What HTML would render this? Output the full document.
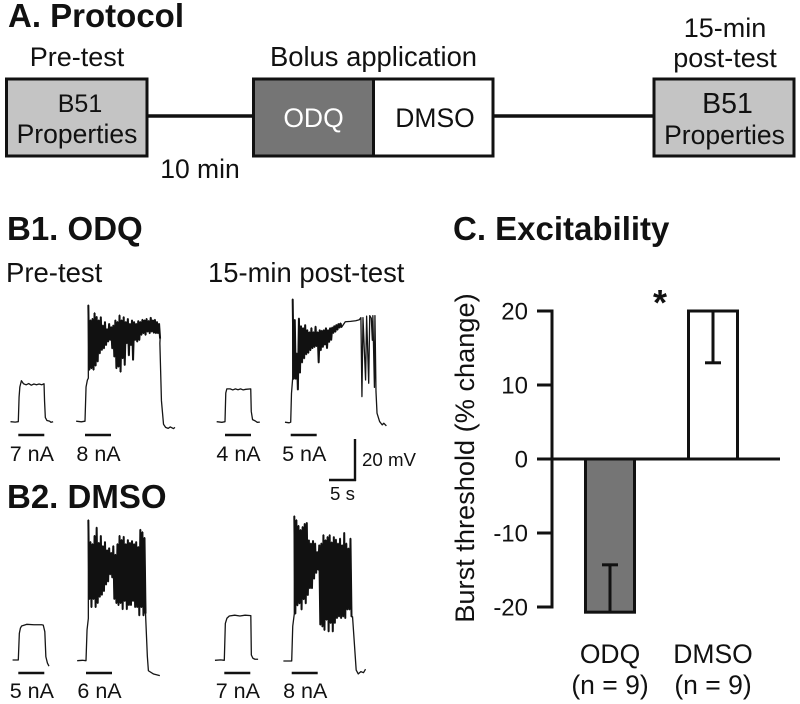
<!DOCTYPE html>
<html lang="en">
<head>
<meta charset="utf-8">
<title>Protocol, traces and excitability</title>
<style>
html,body{margin:0;padding:0;background:#fff}
svg{display:block;filter:blur(0.35px)}
text{font-family:"Liberation Sans",Arial,sans-serif;fill:#111}
.h{font-weight:bold;font-size:33px}
.t{font-size:26.5px}
.s{font-size:21.5px}
.m{text-anchor:middle}
</style>
</head>
<body>
<svg id="fig" width="800" height="704" viewBox="0 0 800 704" xmlns="http://www.w3.org/2000/svg">
  <rect x="0" y="0" width="800" height="704" fill="#fff"/>

  <text class="h" x="8" y="27">A. Protocol</text>
  <text class="t m" x="77" y="66" style="font-size:27px">Pre-test</text>
  <text class="t m" x="373.5" y="66" style="font-size:27.4px">Bolus application</text>
  <text class="t m" x="725" y="37" style="font-size:27px">15-min</text>
  <text class="t m" x="725" y="67" style="font-size:27px">post-test</text>

  <line x1="147" y1="116" x2="253" y2="116" stroke="#111" stroke-width="3.5"/>
  <line x1="493" y1="116" x2="654" y2="116" stroke="#111" stroke-width="3.5"/>
  <rect x="6.5" y="79" width="140.5" height="77" fill="#c4c4c4" stroke="#111" stroke-width="3"/>
  <text class="t m" x="80" y="112" style="font-size:25px">B51</text>
  <text class="t m" x="77" y="143">Properties</text>
  <rect x="253.5" y="79" width="120" height="77" fill="#757575" stroke="#111" stroke-width="3"/>
  <rect x="373.5" y="79" width="119.5" height="77" fill="#fff" stroke="#111" stroke-width="3"/>
  <text class="t m" x="313.5" y="127" style="fill:#fff">ODQ</text>
  <text class="t m" x="435" y="127">DMSO</text>
  <rect x="654" y="79" width="140" height="77" fill="#c4c4c4" stroke="#111" stroke-width="3"/>
  <text class="t m" x="727.5" y="113" style="font-size:28.5px">B51</text>
  <text class="t m" x="724.5" y="144">Properties</text>
  <text class="t m" x="200" y="178">10 min</text>

  <text class="h" x="7" y="240">B1. ODQ</text>
  <text class="t" x="6" y="282" style="font-size:27.5px">Pre-test</text>
  <text class="t" x="208" y="282" style="font-size:27.4px">15-min post-test</text>
  <text class="h" x="7" y="508">B2. DMSO</text>
  <text class="h" x="453" y="240">C. Excitability</text>

  <g id="traces"></g>

  <line x1="355" y1="439" x2="355" y2="481" stroke="#111" stroke-width="2.4"/>
  <line x1="329" y1="480" x2="356" y2="480" stroke="#111" stroke-width="2.4"/>
  <text x="362" y="466" style="font-size:18.7px">20 mV</text>
  <text x="330" y="500" style="font-size:18.7px">5 s</text>

  <g id="chart"></g>
  <text transform="translate(474,458) rotate(-90)" class="m" x="0" y="0" style="font-size:27.2px">Burst threshold (% change)</text>
  <text class="m" x="660" y="315" style="font-size:36px;font-weight:bold">*</text>
</svg>

<script>
// ---- Bar chart data ----
var barCategories = ["ODQ", "DMSO"];
var barNotes = ["(n = 9)", "(n = 9)"];
var barMeans = [-20.7, 20];
var barErrors = [6.4, 7];
var barFills = ["#757575", "#ffffff"];
var yTicks = [20, 10, 0, -10, -20];

// ---- Trace data: time in s, membrane potential in mV relative to baseline ----
var b1Pre7Shape = [[-1.5,0],[-0.6,-0.2],[0,0],[0.15,12],[0.3,17],[0.6,20],[1,18.5],[1.5,18],[2,18.6],[2.5,17.8],[3,18.4],[3.5,18],[4,18.4],[4.5,18],[4.95,18.5],[5.05,10],[5.2,2],[5.5,0.6],[6,0.3],[6.3,-0.3],[6.7,0]];
var b1Pre8Before = [[-1.7,0],[-0.7,-0.3],[0,0],[0.2,16.7],[0.45,20],[0.64,21]];
var b1Pre8Hi = [56.6,49.3,50,52.8,51,49.3,50.9,46.8,48.5,45,47.6,46,46.8,49.3,48.5,51.7,49.3,50.9,48.5,50,47.6,49.3,48.5,47.6,49,48.5,49.6,49.3,50,49,50.6,49.3,49.6,48.5,47.6];
var b1Pre8Lo = [25,25.7,25,27,29,33,34.6,35.4,37,38.7,39.5,35.4,31.4,25.7,26.5,24,30.6,27.3,37.9,32,37,29.8,39.5,38.7,39.5,42,42.8,42,43.6,42.8,43.6,43,42.8,42.8,40.3];
var b1Pre8After = [[14.4,38],[14.7,10],[15.1,-1.5],[15.5,-3],[16,-3.5],[16.4,-2.8],[17,-3.6],[17.3,-3]];

var b1Post4Shape = [[-1.6,0],[-0.6,-0.3],[0,0],[0.15,14],[0.35,16],[1,16],[1.5,15.5],[2,16],[2.5,15.6],[3,16],[3.5,15.5],[4,15.8],[4.95,16],[5.05,5],[5.3,1],[5.8,0.4],[6.2,-0.3],[6.7,-0.2]];
var b1Post5Before = [[-1.1,0],[-0.3,-0.3],[0,0],[0.15,14],[0.38,21.5]];
var b1Post5Hi = [60,50,33.6,50.7,47,46,47.5,45,44,46,44,46.7,44,45,44.7,45,46,45,46,46.3,47,47.5,48,48.3];
var b1Post5Lo = [21,21,15.8,24,29,31,33,33.7,35,36,36.6,37,29,35,36.6,37.7,36,39,40,43.4,44,45,46,46.3];
var b1Post5After = [[10.5,49],[11.5,49.2],[12.5,49.5],[13.2,50],[13.5,51],[13.7,12.5],[13.9,51],[14.4,20.6],[14.6,51.7],[15,19],[15.2,52],[15.5,50.7],[15.7,40],[15.8,52],[16.1,17],[16.2,52],[16.4,15],[16.6,4.4],[17.1,0.3],[17.6,-1.3],[17.9,-0.5],[18.4,-1.8]];

var b2Pre5Shape = [[-1.1,0],[-0.4,0],[0,0],[0.2,13],[0.4,15.5],[0.64,16.6],[1.6,17.4],[3,17.2],[4.5,17.2],[4.8,17],[5.1,13.8],[5.3,1.6],[5.6,-1.5],[5.9,-3]];
var b2Pre6Before = [[-1.7,0],[-0.7,0.2],[0,0],[0.2,15],[0.45,20.6]];
var b2Pre6Hi = [68.6,58,57,61,65,57.6,61,56,58,54,55,52.7,56,51.8,57,61,59,60.6,57,59,57.6,58.5,57,58,55.6,64,62.8,60];
var b2Pre6Lo = [30,26,30,26,28,31,32,33.8,37,38.5,42,40.5,30,28,27,28,25,29,25,27,27,29,26,26,22,26,22,23];
var b2Pre6After = [[11.5,19.8],[11.8,2],[12,-4.9],[13,-6.5],[14.2,-7.3]];

var b2Post7Shape = [[-1.8,0],[-0.7,0.2],[0,0],[0.2,18],[0.5,20.5],[0.96,21.6],[2,22],[3,21.6],[4,22],[5.1,21.8],[5.2,2.6],[5.5,1],[5.9,0.5],[6.5,0.5]];
var b2Post8Before = [[-1.6,0],[-0.6,0],[0,0],[0.2,17],[0.5,23]];
var b2Post8Hi = [70.7,68.8,66,64,65.5,67,67.5,59,57.4,58.7,57.4,53.3,56.6,57.4,61.5,59,60.6,61.5,58,60.6,59.3,57.4,59.8,56.6,62.6,57.4,55,59.8];
var b2Post8Lo = [23,27,28,25,30,28,32,35.4,35.4,40,42.8,44.4,17.6,16.7,15,20,14.3,18.4,14.3,18.4,20.8,21.6,20.8,21.6,20.8,25,25,21.6];
var b2Post8After = [[11.7,21.6],[12.4,-4.4],[12.8,-6.3],[13.3,-5.2],[13.8,-5.7],[14.2,-4]];

var burstStepSeconds = 0.4;
var SVGNS = "http://www.w3.org/2000/svg";
var pxPerSecond = 5.2;
var pxPerMillivolt = 2.05;

function traceX(t, originX) { return originX + t * pxPerSecond; }
function traceY(v, originY) { return originY - v * pxPerMillivolt; }
function toPointString(pts, originX, originY) {
  return pts.map(function (p) {
    return traceX(p[0], originX).toFixed(2) + "," + traceY(p[1], originY).toFixed(2);
  }).join(" ");
}

function burstZigzag(before, hi, lo) {
  var pts = [];
  var start = before[before.length - 1][0];
  for (var i = 0; i < hi.length; i++) {
    var t = start + i * burstStepSeconds;
    pts.push([t, hi[i]]);
    pts.push([t + burstStepSeconds / 2, lo[i]]);
  }
  return pts;
}

function drawTrace(name, pts, originX, originY, stimY, labelY, label, zigzag) {
  var g = document.getElementById("traces");
  var line = document.createElementNS(SVGNS, "polyline");
  
  
  line.setAttribute("fill", "none");
  line.setAttribute("stroke", "#151515");
  line.setAttribute("stroke-width", "1.3");
  line.setAttribute("stroke-linejoin", "round");
  line.setAttribute("points", toPointString(pts, originX, originY));
  g.appendChild(line);

  if (zigzag) {
    var burst = document.createElementNS(SVGNS, "polyline");
    
    
    burst.setAttribute("fill", "none");
    burst.setAttribute("stroke", "#111");
    burst.setAttribute("stroke-width", "2");
    burst.setAttribute("stroke-linejoin", "bevel");
    burst.setAttribute("points", toPointString(zigzag, originX, originY));
    g.appendChild(burst);
  }

  var stim = document.createElementNS(SVGNS, "line");
  
  
  stim.setAttribute("x1", traceX(0, originX));
  stim.setAttribute("x2", traceX(5, originX));
  stim.setAttribute("y1", stimY);
  stim.setAttribute("y2", stimY);
  stim.setAttribute("stroke", "#111");
  stim.setAttribute("stroke-width", "2.4");
  g.appendChild(stim);

  var txt = document.createElementNS(SVGNS, "text");
  
  
  txt.setAttribute("class", "s m");
  txt.setAttribute("x", traceX(2.6, originX));
  txt.setAttribute("y", labelY);
  txt.textContent = label;
  g.appendChild(txt);
}

function drawBurstTrace(name, before, hi, lo, after, originX, originY, stimY, labelY, label) {
  var zig = burstZigzag(before, hi, lo);
  drawTrace(name, before.concat(zig, after), originX, originY, stimY, labelY, label, zig);
}

drawTrace("b1-pre-7na", b1Pre7Shape, 18.3, 421.7, 435, 461, "7 nA");
drawBurstTrace("b1-pre-8na", b1Pre8Before, b1Pre8Hi, b1Pre8Lo, b1Pre8After, 85, 421.2, 435, 461, "8 nA");
drawTrace("b1-post-4na", b1Post4Shape, 225, 421.7, 435, 461, "4 nA");
drawBurstTrace("b1-post-5na", b1Post5Before, b1Post5Hi, b1Post5Lo, b1Post5After, 290.7, 422.2, 435, 461, "5 nA");
drawTrace("b2-pre-5na", b2Pre5Shape, 18.3, 660, 673, 698, "5 nA");
drawBurstTrace("b2-pre-6na", b2Pre6Before, b2Pre6Hi, b2Pre6Lo, b2Pre6After, 86, 660.7, 673, 698, "6 nA");
drawTrace("b2-post-7na", b2Post7Shape, 224.3, 660.3, 673, 698, "7 nA");
drawBurstTrace("b2-post-8na", b2Post8Before, b2Post8Hi, b2Post8Lo, b2Post8After, 291.7, 661, 673, 698, "8 nA");

// ---- Bar chart rendering ----
function yScale(v) { return 459 - v * 7.4; }
var barCenters = [610, 713];
var barWidth = 49;

function chartEl(tag, attrs, name) {
  var el = document.createElementNS(SVGNS, tag);
  for (var k in attrs) { el.setAttribute(k, attrs[k]); }
  
  
  document.getElementById("chart").appendChild(el);
  return el;
}

barMeans.forEach(function (mean, i) {
  var cat = barCategories[i].toLowerCase();
  var x = barCenters[i];
  var y0 = yScale(0), y1 = yScale(mean);
  chartEl("rect", {x: x - barWidth / 2, y: Math.min(y0, y1), width: barWidth, height: Math.abs(y1 - y0),
    fill: barFills[i], stroke: "#111", "stroke-width": 3}, "bar-" + cat);
  var inner = mean > 0 ? mean - barErrors[i] : mean + barErrors[i];
  chartEl("line", {x1: x, x2: x, y1: y1, y2: yScale(inner), stroke: "#111", "stroke-width": 3}, "error-bar-" + cat);
  chartEl("line", {x1: x - 8, x2: x + 8, y1: yScale(inner), y2: yScale(inner), stroke: "#111", "stroke-width": 3}, "error-cap-" + cat);
  var label = chartEl("text", {x: x, y: 663, "class": "t m"}, "x-label-" + cat);
  label.textContent = barCategories[i];
  var note = chartEl("text", {x: x, y: 694, "class": "t m"}, "x-note-" + cat);
  note.textContent = barNotes[i];
});

chartEl("line", {x1: 552, x2: 552, y1: yScale(20) - 1.5, y2: yScale(-20) + 1.5, stroke: "#111", "stroke-width": 3}, "y-axis-line");
chartEl("line", {x1: 552, x2: 780, y1: yScale(0), y2: yScale(0), stroke: "#111", "stroke-width": 3}, "zero-line");
yTicks.forEach(function (tick) {
  chartEl("line", {x1: 537, x2: 552, y1: yScale(tick), y2: yScale(tick), stroke: "#111", "stroke-width": 3}, "y-tick-" + tick);
  var t = chartEl("text", {x: 528, y: yScale(tick) + 8.5, "text-anchor": "end", style: "font-size:24px"}, "y-tick-label-" + tick);
  t.textContent = String(tick);
});
</script>
</body>
</html>
